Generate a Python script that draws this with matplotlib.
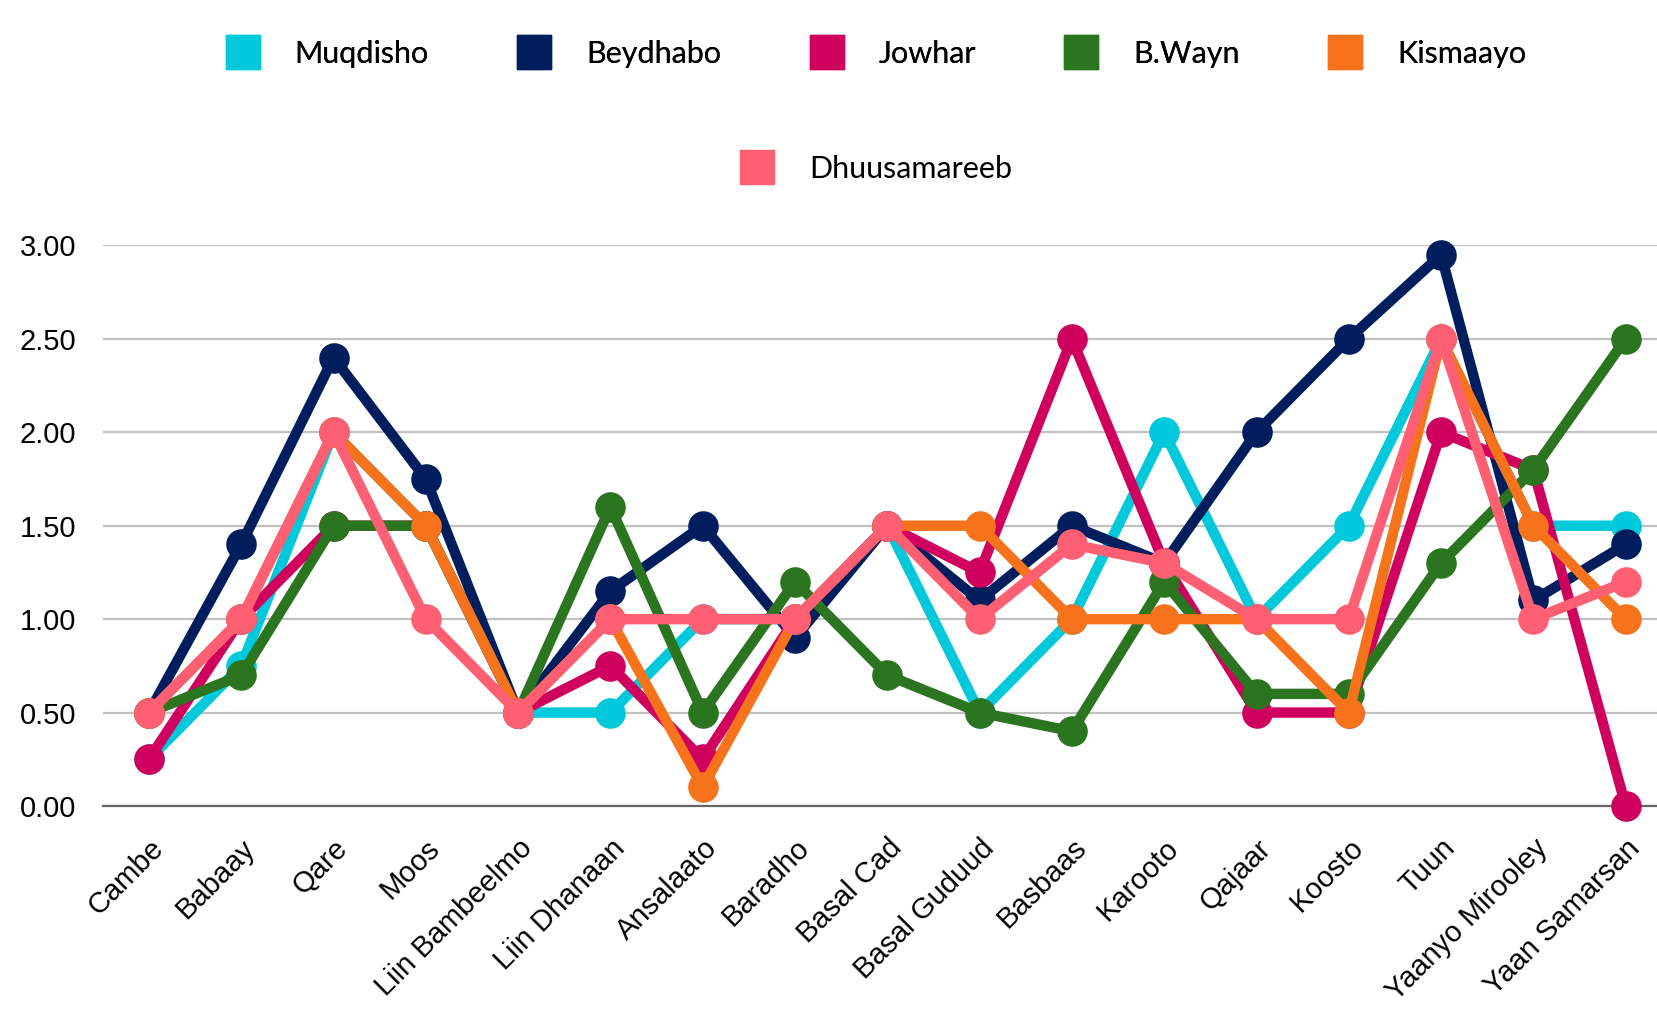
import matplotlib
matplotlib.use("Agg")
import matplotlib.pyplot as plt
from matplotlib.lines import Line2D

categories = ["Cambe", "Babaay", "Qare", "Moos", "Liin Bambeelmo", "Liin Dhanaan",
              "Ansalaato", "Baradho", "Basal Cad", "Basal Guduud", "Basbaas", "Karooto",
              "Qajaar", "Koosto", "Tuun", "Yaanyo Mirooley", "Yaan Samarsan"]

muqdisho = [0.25, 0.75, 2.0, 1.5, 0.5, 0.5, 1.0, 1.0, 1.5, 0.5, 1.0, 2.0, 1.0, 1.5, 2.5, 1.5, 1.5]
beydhabo = [0.5, 1.4, 2.4, 1.75, 0.5, 1.15, 1.5, 0.9, 1.5, 1.1, 1.5, 1.3, 2.0, 2.5, 2.95, 1.1, 1.4]
jowhar = [0.25, 1.0, 1.5, 1.5, 0.5, 0.75, 0.25, 1.0, 1.5, 1.25, 2.5, 1.3, 0.5, 0.5, 2.0, 1.8, 0.0]
bwayn = [0.5, 0.7, 1.5, 1.5, 0.5, 1.6, 0.5, 1.2, 0.7, 0.5, 0.4, 1.2, 0.6, 0.6, 1.3, 1.8, 2.5]
kismaayo = [0.5, 1.0, 2.0, 1.5, 0.5, 1.0, 0.1, 1.0, 1.5, 1.5, 1.0, 1.0, 1.0, 0.5, 2.5, 1.5, 1.0]
dhuusamareeb = [0.5, 1.0, 2.0, 1.0, 0.5, 1.0, 1.0, 1.0, 1.5, 1.0, 1.4, 1.3, 1.0, 1.0, 2.5, 1.0, 1.2]

series_names = ["Muqdisho", "Beydhabo", "Jowhar", "B.Wayn", "Kismaayo", "Dhuusamareeb"]
series_values = [muqdisho, beydhabo, jowhar, bwayn, kismaayo, dhuusamareeb]
colors = ["#00C9DB", "#001E5E", "#CF005E", "#2C7520", "#F7731B", "#FF5F73"]
yticks = [0.0, 0.5, 1.0, 1.5, 2.0, 2.5, 3.0]

plt.rcParams['font.family'] = ['Liberation Sans', 'DejaVu Sans']

fig = plt.figure(figsize=(16.58, 10.10), dpi=100)
ax = fig.add_axes([0.062, 0.202, 0.938, 0.555])

x = list(range(len(categories)))
for name, vals, c in zip(series_names, series_values, colors):
    ax.plot(x, vals, color=c, linewidth=7.5, marker='o', markersize=21,
            solid_joinstyle='miter', clip_on=False, zorder=3)

ax.set_ylim(0, 3)
ax.set_xlim(-0.5, 16.35)
ax.set_yticks(yticks)
ax.set_yticklabels([f"{v:.2f}" for v in yticks], fontsize=21)
ax.set_xticks(x)
ax.set_xticklabels(categories, rotation=45, ha='right', rotation_mode='anchor', fontsize=21)
ax.tick_params(axis='both', length=0)
ax.tick_params(axis='y', pad=19)
ax.tick_params(axis='x', pad=20)
ax.grid(axis='y', color='#C0C0C0', linewidth=1.6, zorder=0)
ax.set_axisbelow(True)
for s in ['top', 'right', 'left']:
    ax.spines[s].set_visible(False)
ax.spines['bottom'].set_color('#666666')
ax.spines['bottom'].set_linewidth(1.6)
ax.spines['bottom'].set_zorder(1)

handles = [Line2D([], [], marker='s', linestyle='none', markersize=25, color=c) for c in colors]
leg1 = fig.legend(handles[:5], series_names[:5], loc='center', bbox_to_anchor=(0.527, 0.947),
                  ncol=5, frameon=False, handlelength=1.4, handletextpad=1.0,
                  columnspacing=2.75, prop={'family': ['Lato', 'DejaVu Sans'], 'size': 22})
leg2 = fig.legend(handles[5:], series_names[5:], loc='center', bbox_to_anchor=(0.527, 0.833),
                  ncol=1, frameon=False, handlelength=1.4, handletextpad=1.0,
                  prop={'family': ['Lato', 'DejaVu Sans'], 'size': 22})
fig.add_artist(leg1)

fig.savefig("out.png", dpi=100)
